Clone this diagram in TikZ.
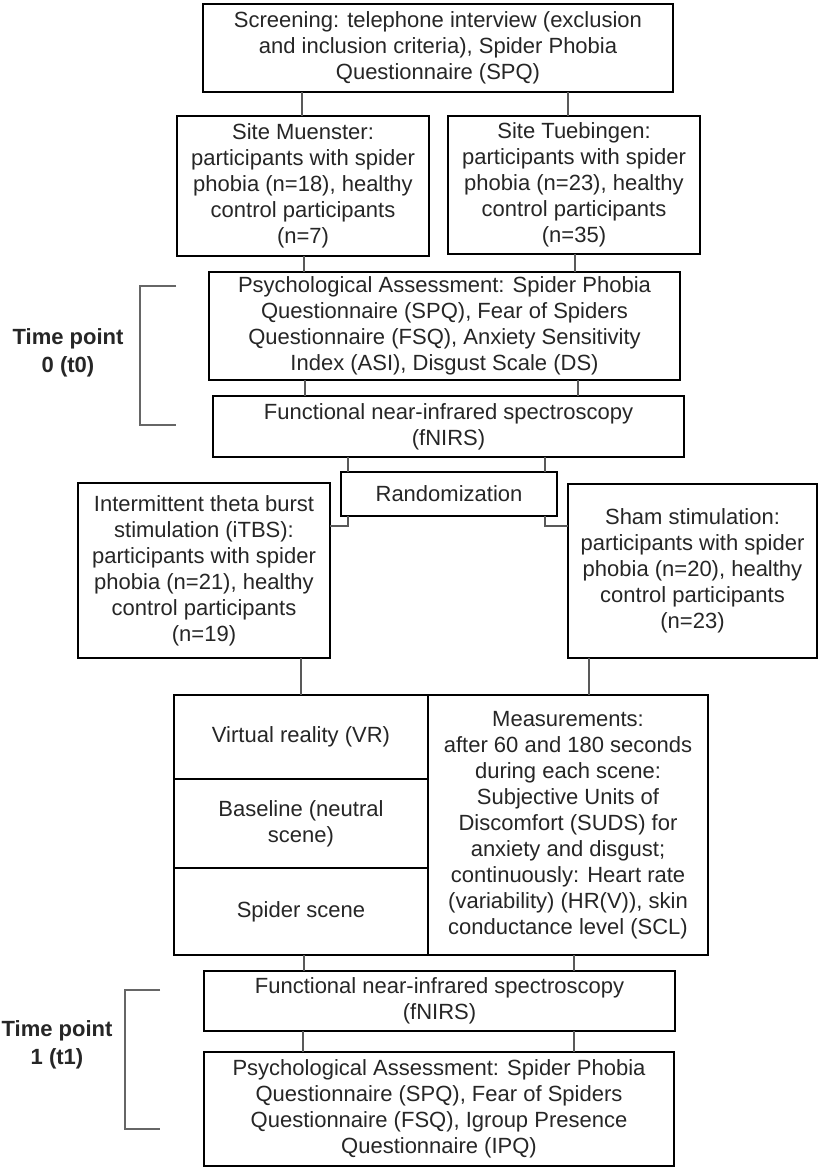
\documentclass[tikz,border=0pt]{standalone}
\usepackage{fontspec}
\setmainfont{Liberation Sans}
\begin{document}
\begin{tikzpicture}[x=1pt,y=-1pt,
  box/.style={draw=black,line width=2.4pt,inner sep=0pt,outer sep=0pt,align=center,
    font=\fontsize{22pt}{26pt}\selectfont,text=black!85},
  conn/.style={draw=black!65,line width=1.1pt},
  brack/.style={draw=black!60,line width=1.6pt},
  lab/.style={align=center,font=\bfseries\fontsize{22pt}{28pt}\selectfont,inner sep=0pt,text=black!85}]
\useasboundingbox[fill=white] (0,0) rectangle (819,1169);

\node[box,minimum width=470pt,minimum height=88pt] (scr) at (438,48)
  {Screening: telephone interview (exclusion\\and inclusion criteria), Spider Phobia\\Questionnaire (SPQ)};
\node[box,minimum width=252pt,minimum height=140pt] (mue) at (303,186)
  {Site Muenster:\\participants with spider\\phobia (n=18), healthy\\control participants\\(n=7)};
\node[box,minimum width=252pt,minimum height=138pt] (tue) at (574,185)
  {Site Tuebingen:\\participants with spider\\phobia (n=23), healthy\\control participants\\(n=35)};
\node[box,minimum width=471pt,minimum height=108pt] (psy0) at (444.5,326)
  {Psychological Assessment: Spider Phobia\\Questionnaire (SPQ), Fear of Spiders\\Questionnaire (FSQ), Anxiety Sensitivity\\Index (ASI), Disgust Scale (DS)};
\node[box,minimum width=471pt,minimum height=61pt] (fn0) at (448.5,426.5)
  {Functional near-infrared spectroscopy\\(fNIRS)};
\node[box,minimum width=216pt,minimum height=44pt] (rnd) at (449,494) {Randomization};
\node[box,minimum width=252pt,minimum height=175pt] (itbs) at (204,570.5)
  {Intermittent theta burst\\stimulation (iTBS):\\participants with spider\\phobia (n=21), healthy\\control participants\\(n=19)};
\node[box,minimum width=249pt,minimum height=174pt] (sham) at (692.5,571)
  {Sham stimulation:\\participants with spider\\phobia (n=20), healthy\\control participants\\(n=23)};
\node[box,minimum width=254pt,minimum height=84pt] (vr) at (301,737) {Virtual reality (VR)};
\node[box,minimum width=254pt,minimum height=89pt] (base) at (301,823.5) {Baseline (neutral\\scene)};
\node[box,minimum width=254pt,minimum height=87pt] (spid) at (301,911.5) {Spider scene};
\node[box,minimum width=280pt,minimum height=260pt] (meas) at (568,825)
  {Measurements:\\after 60 and 180 seconds\\during each scene:\\Subjective Units of\\Discomfort (SUDS) for\\anxiety and disgust;\\continuously: Heart rate\\(variability) (HR(V)), skin\\conductance level (SCL)};
\node[box,minimum width=471pt,minimum height=60pt] (fn1) at (439.5,1001)
  {Functional near-infrared spectroscopy\\(fNIRS)};
\node[box,minimum width=470pt,minimum height=114pt] (psy1) at (439,1109)
  {Psychological Assessment: Spider Phobia\\Questionnaire (SPQ), Fear of Spiders\\Questionnaire (FSQ), Igroup Presence\\Questionnaire (IPQ)};

\node[lab] (t0) at (68,353) {Time point\\0 (t0)};
\node[lab] (t1) at (57,1045) {Time point\\1 (t1)};

% connectors
\draw[conn] (scr.south -| 302,0) -- (mue.north -| 302,0);
\draw[conn] (scr.south -| 568,0) -- (tue.north -| 568,0);
\draw[conn] (mue.south -| 304,0) -- (psy0.north -| 304,0);
\draw[conn] (tue.south -| 575,0) -- (psy0.north -| 575,0);
\draw[conn] (psy0.south -| 305,0) -- (fn0.north -| 305,0);
\draw[conn] (psy0.south -| 578,0) -- (fn0.north -| 578,0);
\draw[conn] (fn0.south -| 348,0) -- (rnd.north -| 348,0);
\draw[conn] (fn0.south -| 545,0) -- (rnd.north -| 545,0);
\draw[conn] (rnd.south -| 348,0) |- (itbs.east |- 0,526);
\draw[conn] (rnd.south -| 545,0) |- (sham.west |- 0,526);
\draw[conn] (itbs.south -| 301,0) -- (vr.north -| 301,0);
\draw[conn] (sham.south -| 589,0) -- (meas.north -| 589,0);
\draw[conn] (spid.south -| 304,0) -- (fn1.north -| 304,0);
\draw[conn] (meas.south -| 574,0) -- (fn1.north -| 574,0);
\draw[conn] (fn1.south -| 303,0) -- (psy1.north -| 303,0);
\draw[conn] (fn1.south -| 574,0) -- (psy1.north -| 574,0);

% brackets
\draw[brack] (176,286) -- (140,286) -- (140,425) -- (176,425);
\draw[brack] (160,990) -- (125,990) -- (125,1129) -- (160,1129);
\end{tikzpicture}
\end{document}
